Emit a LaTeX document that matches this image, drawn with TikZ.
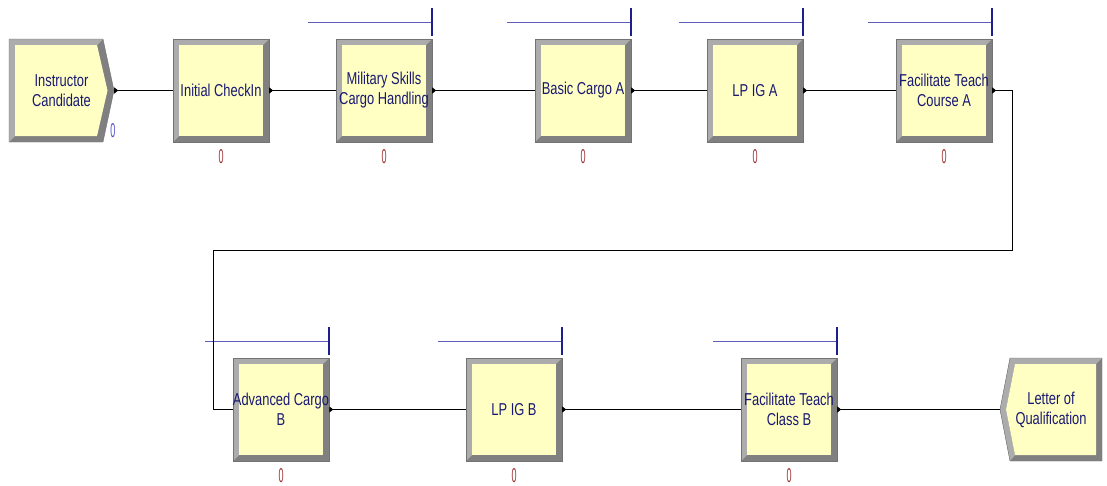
\documentclass[tikz,border=0pt]{standalone}
\usepackage{fontspec}
\setmainfont{Liberation Sans}[FakeStretch=0.75]
\newfontfamily\modfont{Liberation Sans}[FakeStretch=0.75]
\usetikzlibrary{arrows.meta}
\definecolor{boxfill}{RGB}{255,255,196}
\definecolor{bevlight}{RGB}{172,172,172}
\definecolor{bevdark}{RGB}{128,128,128}
\definecolor{txtblue}{RGB}{25,25,115}
\definecolor{queuelight}{RGB}{95,95,185}
\definecolor{queuedark}{RGB}{30,30,140}
\definecolor{cntred}{RGB}{160,50,50}
\definecolor{cntblue}{RGB}{80,80,200}
\tikzset{
  modbox/.style={minimum width=96pt, minimum height=103pt, inner sep=0pt, align=center,
    text=txtblue, font=\modfont\fontsize{17.2}{20}\selectfont},
  counter/.style={inner sep=0pt, font=\modfont\fontsize{20}{20}\selectfont},
  bevedge/.style={draw=black!55, line width=0.4pt},
  queueline/.style={draw=queuelight, line width=1pt},
  queuetick/.style={draw=queuedark, line width=1.4pt},
  conn/.style={draw=black, line width=0.9pt},
  exitconn/.style={conn, {Triangle[reversed,length=4pt,width=6pt]}-},
}
\newcommand\arenaproc[4]{% name, left, top, text
  \fill[bevdark] (#2,#3) rectangle ++(96,103);
  \fill[bevlight] (#2,#3) -- ++(96,0) -- ++(-6,6) -- ++(-84,0) -- ++(0,91) -- ++(-6,6) -- cycle;
  \fill[boxfill] ({#2+6},{#3+6}) rectangle ++(84,91);
  \draw[bevedge] (#2,#3) rectangle ++(96,103);
  \node[modbox] (#1) at ({#2+48},{#3+51.5}) {#4};
  \node[counter,text=cntred] (#1cnt) at ({#2+48},{#3+118}) {\scalebox{0.6}[1]{0}};
}
\newcommand\arenaqueue[2]{% left, top
  \draw[queueline] ({#1-28},{#2-17}) -- ({#1+96},{#2-17});
  \draw[queuetick] ({#1+96},{#2-31}) -- ({#1+96},{#2-3});
}
\begin{document}
\begin{tikzpicture}[x=1pt,y=-1pt]
\useasboundingbox[fill=white] (0,0) rectangle (1107,485);

% Create module
\fill[bevdark] (9,39) -- (103,39) -- (114,90.5) -- (103,142) -- (9,142) -- cycle;
\fill[bevlight] (9,39) -- (103,39) -- (97.5,45) -- (15,45) -- (15,136) -- (9,142) -- cycle;
\fill[boxfill] (15,45) -- (97,45) -- (107.5,90.5) -- (97,136) -- (15,136) -- cycle;
\draw[bevedge] (9,39) -- (103,39) -- (114,90.5) -- (103,142) -- (9,142) -- cycle;
\node[modbox, minimum width=105pt] (create) at (61.5,90.5) {Instructor\\Candidate};
\node[counter,text=cntblue] (createcnt) at (113,131) {\scalebox{0.6}[1]{0}};

% Queues
\arenaqueue{336}{39}
\arenaqueue{535}{39}
\arenaqueue{707}{39}
\arenaqueue{896}{39}
\arenaqueue{233}{358}
\arenaqueue{466}{358}
\arenaqueue{741}{358}

% Process modules
\arenaproc{ic}{173}{39}{Initial CheckIn}
\arenaproc{ms}{336}{39}{Military Skills\\Cargo Handling}
\arenaproc{bca}{535}{39}{Basic Cargo A}
\arenaproc{lpa}{707}{39}{LP IG A}
\arenaproc{fta}{896}{39}{Facilitate Teach\\Course A}
\arenaproc{acb}{233}{358}{Advanced Cargo\\B}
\arenaproc{lpb}{466}{358}{LP IG B}
\arenaproc{ftb}{741}{358}{Facilitate Teach\\Class B}

% Dispose module
\fill[bevdark] (1010,358) -- (1102,358) -- (1102,461) -- (1010,461) -- (1000,409.5) -- cycle;
\fill[bevlight] (1010,358) -- (1102,358) -- (1096,364) -- (1015,364) -- (1006,409.5) -- (1015,455) -- (1010,461) -- (1000,409.5) -- cycle;
\fill[boxfill] (1015,364) -- (1096,364) -- (1096,455) -- (1015,455) -- (1006,409.5) -- cycle;
\draw[bevedge] (1010,358) -- (1102,358) -- (1102,461) -- (1010,461) -- (1000,409.5) -- cycle;
\node[modbox, minimum width=102pt] (loq) at (1051,409.5) {Letter of\\Qualification};

% Connectors
\coordinate (turnA) at (1012,250);
\coordinate (turnB) at (213,250);
\draw[exitconn] (create.east) -- (ic.west);
\draw[exitconn] (ic.east) -- (ms.west);
\draw[exitconn] (ms.east) -- (bca.west);
\draw[exitconn] (bca.east) -- (lpa.west);
\draw[exitconn] (lpa.east) -- (fta.west);
\draw[exitconn] (fta.east) -| (turnA) -- (turnB) |- (acb.west);
\draw[exitconn] (acb.east) -- (lpb.west);
\draw[exitconn] (lpb.east) -- (ftb.west);
\draw[exitconn] (ftb.east) -- (loq.west);
\end{tikzpicture}
\end{document}
